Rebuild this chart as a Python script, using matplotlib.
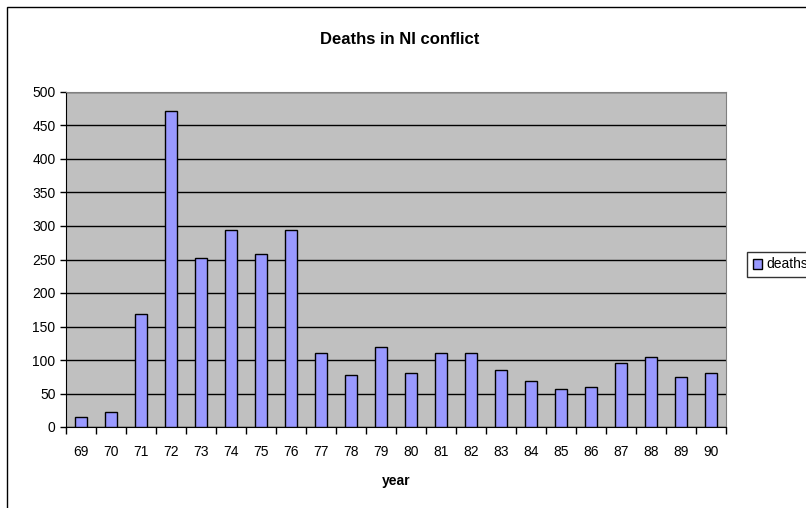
import numpy as np
import matplotlib.pyplot as plt
from matplotlib.patches import Rectangle

# data
years = ['69', '70', '71', '72', '73', '74', '75', '76', '77', '78', '79',
         '80', '81', '82', '83', '84', '85', '86', '87', '88', '89', '90']
deaths = [15, 22, 169, 471, 252, 294, 258, 294, 110, 77, 119,
          81, 110, 110, 85, 69, 56, 60, 96, 104, 75, 81]

plt.rcParams['font.family'] = ['Liberation Sans', 'DejaVu Sans']
plt.rcParams['font.size'] = 10

fig = plt.figure(figsize=(8.06, 5.08), dpi=100)
ax = fig.add_axes([66/806, 81/508, 660/806, 335/508])
ax.set_facecolor('#C0C0C0')

x = np.arange(len(years))
ax.bar(x, deaths, width=0.4, color='#9999FF', edgecolor='black',
       linewidth=1, zorder=3, label='deaths')

# y axis
ax.set_ylim(0, 500)
ax.set_yticks(np.arange(0, 501, 50))
ax.yaxis.grid(True, color='black', linewidth=1, zorder=0)
ax.set_axisbelow(True)
ax.tick_params(axis='y', direction='out', length=4, width=1, colors='black', labelsize=10)

# x axis: labels at bar centres, ticks at boundaries
ax.set_xlim(-0.5, len(years) - 0.5)
ax.set_xticks(x)
ax.set_xticklabels(years)
ax.set_xticks(np.arange(-0.5, len(years)), minor=True)
ax.tick_params(axis='x', which='major', length=0, pad=13, labelsize=10)
ax.tick_params(axis='x', which='minor', direction='out', length=5, width=1)

for s in ['left', 'bottom']:
    ax.spines[s].set_color('black')
for s in ['top', 'right']:
    ax.spines[s].set_color('#808080')

ax.set_xlabel('year', fontweight='bold', fontsize=10, labelpad=11)
fig.text(400/806, 1 - 39/508, 'Deaths in NI conflict', ha='center', va='center',
         fontweight='bold', fontsize=12)

# legend, partly outside the figure like the reference
leg = fig.legend(loc='upper left', bbox_to_anchor=(740/806, 1 - 245/508),
                 frameon=True, fancybox=False, fontsize=10, handlelength=0.7,
                 handleheight=0.7, borderpad=0.4, handletextpad=0.3)
leg.get_frame().set_edgecolor('black')
leg.get_frame().set_linewidth(1)

# outer chart border
fig.patches.append(Rectangle((7/806, -0.05), 1.0, 1.05 - 7/508,
                             transform=fig.transFigure, fill=False,
                             edgecolor='black', linewidth=1))

fig.savefig('out.png', dpi=100)
